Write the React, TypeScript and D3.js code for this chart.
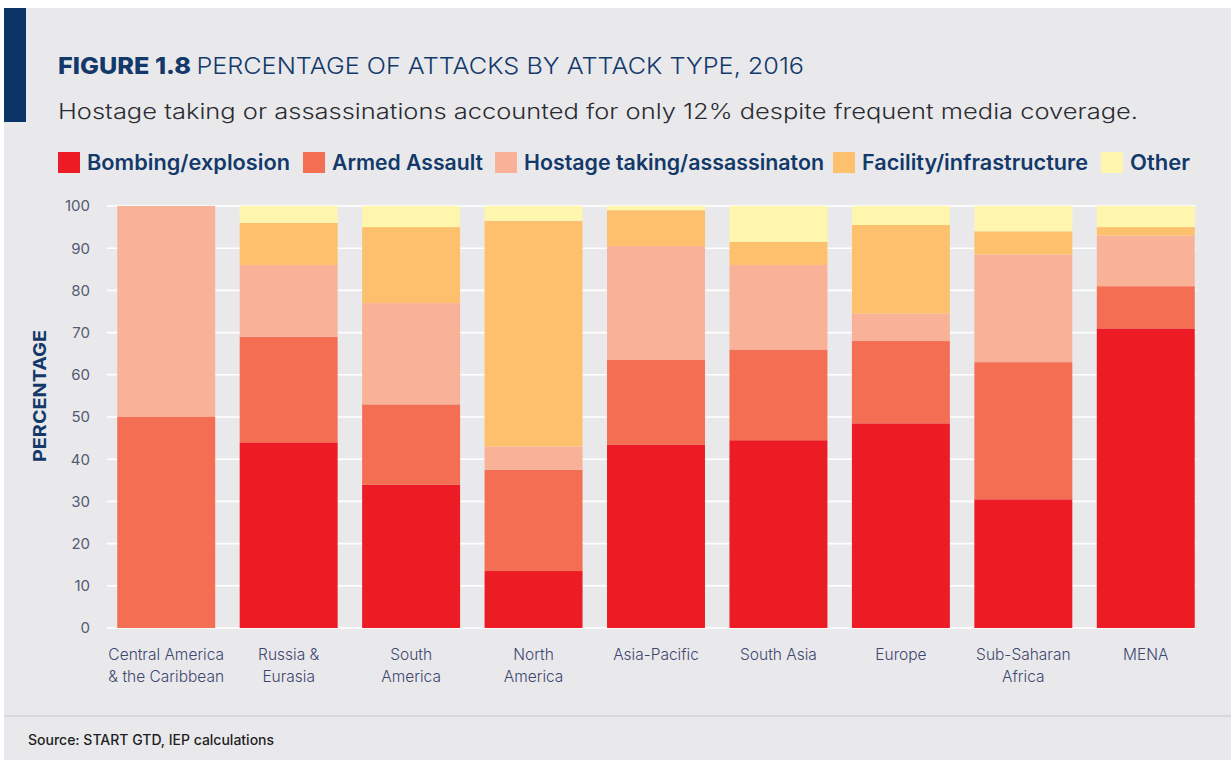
import { useEffect, useRef } from "react";
import * as d3 from "d3";

const regions = [
  "Central America|& the Caribbean",
  "Russia &|Eurasia",
  "South|America",
  "North|America",
  "Asia-Pacific",
  "South Asia",
  "Europe",
  "Sub-Saharan|Africa",
  "MENA",
];

const attackTypes = [
  "Bombing/explosion",
  "Armed Assault",
  "Hostage taking/assassinaton",
  "Facility/infrastructure",
  "Other",
];

const bombing = [0, 44, 34, 13.5, 43.5, 44.5, 48.5, 30.5, 71];
const armedAssault = [50, 25, 19, 24, 20, 21.5, 19.5, 32.5, 10];
const hostage = [50, 17, 24, 5.5, 27, 20, 6.5, 25.5, 12];
const facility = [0, 10, 18, 53.5, 8.5, 5.5, 21, 5.5, 2];
const other = [0, 4, 5, 3.5, 1, 8.5, 4.5, 6, 5];

const yTicks = [0, 10, 20, 30, 40, 50, 60, 70, 80, 90, 100];

const colors = ["#ED1C24", "#F36E53", "#F9B198", "#FDC06C", "#FFF6AE"];
// legend item left edges and text widths (layout only)
const legendX = [58, 303, 495, 833, 1101];
const legendTextW = [203, 151, 300, 226, 60];

const W = 1231;
const H = 760;
const NAVY = "#13396b";
const FONT = "Inter, 'Open Sans', sans-serif";

export default function App() {
  const svgRef = useRef<SVGSVGElement>(null);

  useEffect(() => {
    if (!svgRef.current) return;
    const svg = d3.select(svgRef.current);
    svg.selectAll("*").remove();

    // background panel
    svg.append("rect").attr("width", W).attr("height", H).attr("fill", "#fff");
    svg.append("rect").attr("x", 4).attr("y", 8).attr("width", W - 4).attr("height", H - 8).attr("fill", "#E9E9EB");
    svg.append("rect").attr("x", 4).attr("y", 8).attr("width", 22).attr("height", 114).attr("fill", "#0B3366");

    // title
    const title = svg.append("text").attr("x", 58).attr("y", 74).attr("font-family", FONT)
      .attr("font-size", 23).attr("fill", NAVY)
      .attr("textLength", 746).attr("lengthAdjust", "spacingAndGlyphs");
    title.append("tspan").attr("font-weight", 800).text("FIGURE 1.8 ");
    title.append("tspan").attr("font-weight", 300).text("PERCENTAGE OF ATTACKS BY ATTACK TYPE, 2016");

    svg.append("text").attr("x", 58).attr("y", 119).attr("font-family", FONT)
      .attr("font-size", 21).attr("font-weight", 300).attr("fill", "#2b2b33")
      .attr("textLength", 1080).attr("lengthAdjust", "spacingAndGlyphs")
      .text("Hostage taking or assassinations accounted for only 12% despite frequent media coverage.");

    // legend
    const lg = svg.append("g");
    attackTypes.forEach((t, i) => {
      lg.append("rect").attr("x", legendX[i]).attr("y", 152).attr("width", 22).attr("height", 21).attr("fill", colors[i]);
      lg.append("text").attr("x", legendX[i] + 29).attr("y", 170).attr("font-family", FONT)
        .attr("font-size", 21).attr("font-weight", 600).attr("fill", NAVY)
        .attr("textLength", legendTextW[i]).attr("lengthAdjust", "spacingAndGlyphs").text(t);
    });

    // scales
    const x = d3.scaleBand().domain(regions).range([105, 1207]).paddingInner(0.2).paddingOuter(0.1);
    const y = d3.scaleLinear().domain([0, 100]).range([628, 206]);

    // gridlines
    svg.append("g").selectAll("line").data(yTicks).join("line")
      .attr("x1", 107).attr("x2", 1196)
      .attr("y1", (d) => y(d)).attr("y2", (d) => y(d))
      .attr("stroke", "#fff").attr("stroke-width", 1.6);

    // y tick labels
    svg.append("g").selectAll("text").data(yTicks).join("text")
      .attr("x", 90).attr("y", (d) => y(d)).attr("dy", "0.36em")
      .attr("text-anchor", "end").attr("font-family", FONT).attr("font-size", 15)
      .attr("fill", "#555a73").text((d) => d);

    svg.append("text").attr("transform", `translate(46,396) rotate(-90)`)
      .attr("text-anchor", "middle").attr("font-family", FONT).attr("font-size", 18)
      .attr("font-weight", 700).attr("fill", NAVY)
      .attr("textLength", 132).attr("lengthAdjust", "spacingAndGlyphs").text("PERCENTAGE");

    // stacked bars
    const table = regions.map((r, i) => ({
      region: r,
      [attackTypes[0]]: bombing[i],
      [attackTypes[1]]: armedAssault[i],
      [attackTypes[2]]: hostage[i],
      [attackTypes[3]]: facility[i],
      [attackTypes[4]]: other[i],
    }));
    const series = d3.stack<any>().keys(attackTypes)(table);

    svg.append("g").selectAll("g").data(series).join("g")
      .attr("fill", (_, i) => colors[i])
      .selectAll("rect").data((d) => d).join("rect")
      .attr("x", (d: any) => x(d.data.region)!)
      .attr("width", x.bandwidth())
      .attr("y", (d) => y(d[1]))
      .attr("height", (d) => Math.max(0, y(d[0]) - y(d[1])));

    // x labels
    const xl = svg.append("g").selectAll("text").data(regions).join("text")
      .attr("x", (d) => x(d)! + x.bandwidth() / 2)
      .attr("y", 660).attr("text-anchor", "middle").attr("font-family", FONT)
      .attr("font-size", 15.5).attr("font-weight", 300).attr("fill", "#3d4770");
    xl.each(function (d) {
      const parts = d.split("|");
      const t = d3.select(this);
      parts.forEach((p, j) => {
        t.append("tspan").attr("x", x(d)! + x.bandwidth() / 2).attr("dy", j === 0 ? 0 : 22).text(p);
      });
    });

    // footer
    svg.append("line").attr("x1", 4).attr("x2", W).attr("y1", 716).attr("y2", 716)
      .attr("stroke", "#d2d2d6").attr("stroke-width", 1.5);
    svg.append("text").attr("x", 28).attr("y", 745).attr("font-family", FONT)
      .attr("font-size", 14).attr("font-weight", 500).attr("fill", "#1e1e24")
      .text("Source: START GTD, IEP calculations");
  }, []);

  return (
    <div style={{ position: "absolute", left: 0, top: 0 }}>
      <svg ref={svgRef} width={W} height={H} style={{ display: "block" }} />
    </div>
  );
}
